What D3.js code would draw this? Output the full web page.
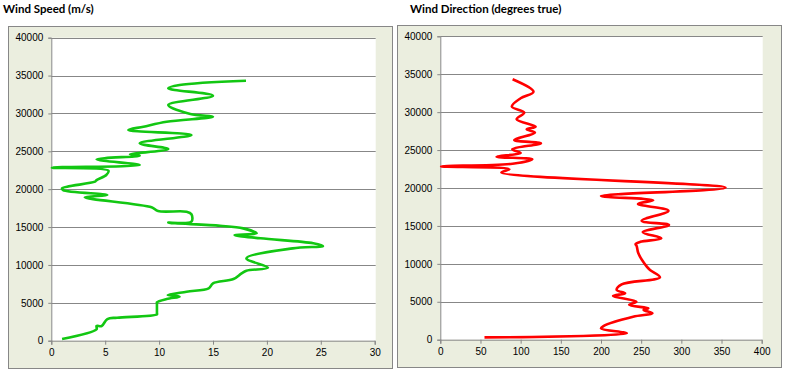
<!DOCTYPE html>
<html>
<head>
<meta charset="utf-8">
<script src="https://cdn.jsdelivr.net/npm/d3@7"></script>
<style>
  body { margin: 0; background: #fff; }
  svg { display: block; font-family: Lato, "Liberation Sans", sans-serif; }
</style>
</head>
<body>
<script>
// wind speed profile: altitude (m) and speed (m/s)
var speedAlt = [224, 1500, 1940, 1940, 2860, 3040, 3480, 3650, 4900, 5070, 5500, 5810, 6030, 6470, 6910, 7570, 8140, 8890, 9240, 9640,
  10870, 12190, 12500, 12860, 13520, 13950, 14170, 14830, 15180, 15580, 15710, 16690, 17030, 17120, 17610, 18930,
  19230, 19890, 20120, 20990, 21200, 21870, 22440, 22840, 23190, 23940, 24420, 24600, 25300, 26050, 27150, 27810,
  28250, 28910, 29570, 29930, 31120, 32340, 33320, 33750, 34320];
var speedVal = [1.0, 4.2, 4.2, 4.67, 5.2, 6.1, 9.8, 9.8, 9.8, 9.8, 10.7, 11.9, 10.8, 12.55, 14.6, 15.0, 16.9, 17.65, 18.1, 20.1,
  18.1, 22.4, 25.2, 24.3, 19.4, 17.0, 19.05, 17.8, 15.65, 10.85, 13.0, 13.0, 12.55, 9.9, 9.3, 3.1,
  5.2, 1.1, 1.0, 4.05, 4.2, 5.1, 5.3, 0.05, 8.2, 4.2, 8.2, 7.3, 10.85, 8.2, 13.0, 7.15,
  8.55, 10.7, 15.0, 12.9, 10.85, 15.0, 10.85, 11.9, 18.06];

// wind direction profile: altitude (m) and direction (degrees true)
var dirAlt = [300, 840, 1500, 1800, 3030, 3480, 3920, 4140, 4580, 5010, 5760, 6120, 6550, 7300, 8230, 9190, 9630,
  11390, 12360, 12600, 12900, 13370, 14180, 15130, 15680, 17000, 17900, 18380, 18950, 20040, 22030, 22470, 22850,
  23200, 23790, 24130, 24620, 25110, 25900, 26330, 27300, 27740, 28090, 29060, 29940, 30730, 31830, 32700, 34340];
var dirVal = [55, 232, 200, 203, 240, 264, 253, 259, 235, 244, 215, 230, 219.5, 225.7, 273.4, 261, 257,
  246.5, 244.4, 243, 249, 275, 252, 284.6, 250.6, 284, 246, 265, 200, 355, 76, 86, 1,
  90, 114.5, 70, 100, 89.6, 125.3, 92, 117.8, 107.5, 118.7, 95, 104.5, 89, 100, 116, 90];

var altTicks = [0, 5000, 10000, 15000, 20000, 25000, 30000, 35000, 40000];
var speedTicks = [0, 5, 10, 15, 20, 25, 30];
var dirTicks = [0, 50, 100, 150, 200, 250, 300, 350, 400];

var svg = d3.select('body').append('svg')
  .attr('width', 790)
  .attr('height', 373);

function drawPanel(p) {
  var g = svg.append('g');

  g.append('text')
    .attr('x', p.titleX).attr('y', 13)
    .attr('font-size', 11.5).attr('font-weight', 'bold')
    .attr('fill', '#000')
    .text(p.title);

  g.append('rect')
    .attr('x', p.box[0] + 0.5).attr('y', p.box[1] + 0.5)
    .attr('width', p.box[2]).attr('height', p.box[3])
    .attr('fill', '#ebeedf').attr('stroke', '#878787');

  var x = d3.scaleLinear().domain(p.xDomain).range([p.left, p.right]);
  var y = d3.scaleLinear().domain([0, 40000]).range([p.bottom, p.top]);

  g.append('rect')
    .attr('x', p.left).attr('y', p.top)
    .attr('width', p.right - p.left + 1).attr('height', p.bottom - p.top)
    .attr('fill', '#fff');

  var yAxis = g.append('g')
    .attr('transform', 'translate(' + p.left + ',0)')
    .call(d3.axisLeft(y).tickValues(altTicks).tickSize(3).tickPadding(5).tickFormat(d3.format('d')));
  yAxis.select('.domain').attr('stroke', '#878787');
  yAxis.selectAll('.tick line').attr('stroke', '#878787');
  yAxis.selectAll('.tick text').attr('font-size', 10).attr('fill', '#000').attr('font-family', null);

  // gridlines
  g.append('g').selectAll('line')
    .data(altTicks.slice(1))
    .enter()
    .append('line')
    .attr('x1', p.left).attr('x2', p.right + 1)
    .attr('y1', function (d) { return Math.round(y(d)) + 0.5; })
    .attr('y2', function (d) { return Math.round(y(d)) + 0.5; })
    .attr('stroke', '#878787');

  var xAxis = g.append('g')
    .attr('transform', 'translate(0,' + p.bottom + ')')
    .call(d3.axisBottom(x).tickValues(p.xTicks).tickSize(4).tickPadding(4));
  xAxis.select('.domain').attr('stroke', '#878787');
  xAxis.selectAll('.tick line').attr('stroke', '#878787');
  xAxis.selectAll('.tick text').attr('font-size', 10).attr('fill', '#000').attr('font-family', null);

  var line = d3.line()
    .x(function (d) { return x(d[1]); })
    .y(function (d) { return y(d[0]); })
    .curve(d3.curveCatmullRom.alpha(0.5));

  g.append('path')
    .datum(d3.zip(p.alt, p.val))
    .attr('fill', 'none')
    .attr('stroke', p.color)
    .attr('stroke-width', 2.6)
    .attr('stroke-linejoin', 'round')
    .attr('d', line);
}

drawPanel({
  title: 'Wind Speed (m/s)', titleX: 3,
  box: [8, 26, 384, 342],
  left: 51.3, right: 374.7, top: 37.7, bottom: 340.7,
  xDomain: [0, 30], xTicks: speedTicks,
  alt: speedAlt, val: speedVal, color: '#12c712'
});

drawPanel({
  title: 'Wind Direction (degrees true)', titleX: 410,
  box: [397, 25, 384, 342],
  left: 440.3, right: 761.7, top: 36.3, bottom: 339.7,
  xDomain: [0, 400], xTicks: dirTicks,
  alt: dirAlt, val: dirVal, color: '#ff0000'
});
</script>
</body>
</html>
